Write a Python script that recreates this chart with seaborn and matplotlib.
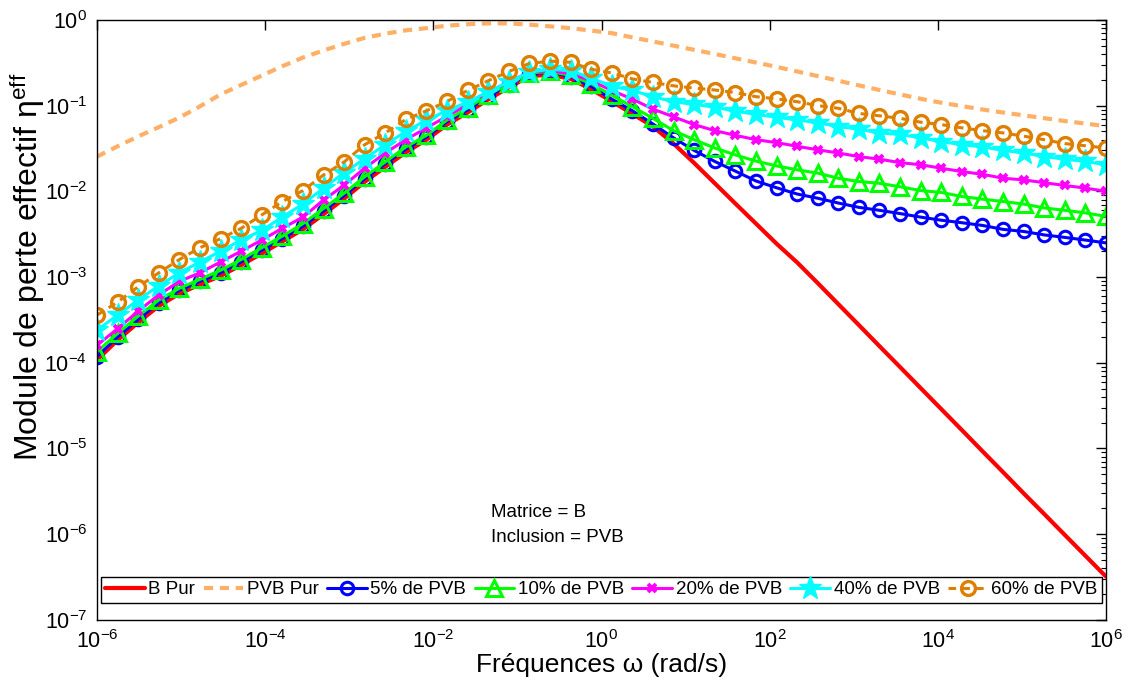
import numpy as np
import pandas as pd
import seaborn as sns
import matplotlib
matplotlib.use("Agg")
import matplotlib.pyplot as plt
from matplotlib.ticker import NullLocator, LogLocator

# frequencies (rad/s): 50 log-spaced points from 1e-6 to 1e6
omega = np.logspace(-6, 6, 50)

b_pur = [1.08e-4, 1.84e-4, 2.95e-4, 4.6e-4, 6.4e-4, 8.2e-4, 1.03e-3, 1.38e-3, 1.88e-3, 2.6e-3,
         3.6e-3, 5.4e-3, 8.2e-3, 1.29e-2, 1.93e-2, 2.85e-2, 4.0e-2, 0.060, 0.083, 0.118,
         0.163, 0.22, 0.23, 0.205, 0.155, 0.112, 0.080, 0.057, 0.036, 0.0214,
         0.0124, 0.0072, 0.0042, 0.00245, 0.00148, 8.5e-4, 4.83e-4, 2.75e-4, 1.56e-4, 8.9e-5,
         5.06e-5, 2.88e-5, 1.64e-5, 9.3e-6, 5.3e-6, 3.0e-6, 1.72e-6, 9.8e-7, 5.6e-7, 3.2e-7]

pvb_pur = [0.0254, 0.0335, 0.0437, 0.056, 0.0725, 0.098, 0.135, 0.174, 0.224, 0.288,
           0.363, 0.44, 0.525, 0.617, 0.69, 0.755, 0.80, 0.855, 0.89, 0.91,
           0.91, 0.88, 0.84, 0.80, 0.75, 0.70, 0.624, 0.56, 0.50, 0.447,
           0.40, 0.356, 0.318, 0.283, 0.25, 0.221, 0.195, 0.172, 0.152, 0.135,
           0.12, 0.108, 0.0986, 0.090, 0.083, 0.077, 0.0713, 0.066, 0.0617, 0.0575]

pvb_5 = [1.18e-4, 2.0e-4, 3.2e-4, 5.0e-4, 7.0e-4, 8.9e-4, 1.12e-3, 1.5e-3, 2.05e-3, 2.8e-3,
         3.9e-3, 5.9e-3, 8.9e-3, 1.4e-2, 2.1e-2, 3.1e-2, 4.3e-2, 0.065, 0.089, 0.127,
         0.175, 0.235, 0.245, 0.218, 0.167, 0.119, 0.087, 0.061, 0.042, 0.030,
         0.0223, 0.0172, 0.0132, 0.011, 0.0093, 0.0083, 0.0073, 0.0065, 0.0060, 0.0055,
         0.0050, 0.0046, 0.0043, 0.0040, 0.0036, 0.0034, 0.0031, 0.0029, 0.0027, 0.0025]

pvb_10 = [1.35e-4, 2.2e-4, 3.5e-4, 5.4e-4, 7.4e-4, 9.4e-4, 1.2e-3, 1.6e-3, 2.2e-3, 3.0e-3,
          4.2e-3, 6.3e-3, 9.5e-3, 1.48e-2, 2.2e-2, 3.3e-2, 4.5e-2, 0.068, 0.094, 0.133,
          0.182, 0.24, 0.25, 0.225, 0.18, 0.132, 0.097, 0.071, 0.051, 0.040,
          0.032, 0.0266, 0.0225, 0.0198, 0.0178, 0.0163, 0.0142, 0.0130, 0.0124, 0.0113,
          0.0102, 0.0097, 0.0087, 0.0081, 0.0076, 0.0071, 0.0064, 0.0060, 0.0056, 0.0051]

pvb_20 = [1.6e-4, 2.5e-4, 4.0e-4, 6.2e-4, 8.9e-4, 1.12e-3, 1.5e-3, 2.0e-3, 2.7e-3, 3.7e-3,
          5.0e-3, 7.9e-3, 1.18e-2, 1.86e-2, 2.8e-2, 4.0e-2, 5.5e-2, 0.075, 0.103, 0.143,
          0.19, 0.245, 0.255, 0.235, 0.195, 0.15, 0.119, 0.091, 0.074, 0.060,
          0.051, 0.045, 0.040, 0.037, 0.0335, 0.0305, 0.028, 0.0254, 0.0237, 0.0216,
          0.0204, 0.0186, 0.017, 0.0158, 0.0142, 0.0136, 0.0126, 0.0117, 0.0109, 0.010]

pvb_40 = [2.4e-4, 3.6e-4, 5.4e-4, 7.9e-4, 1.12e-3, 1.5e-3, 2.0e-3, 2.7e-3, 3.5e-3, 5.0e-3,
          7.1e-3, 1.09e-2, 1.65e-2, 2.4e-2, 3.5e-2, 5.0e-2, 0.068, 0.087, 0.11, 0.145,
          0.19, 0.245, 0.265, 0.255, 0.21, 0.168, 0.15, 0.127, 0.111, 0.103,
          0.096, 0.086, 0.079, 0.073, 0.068, 0.063, 0.057, 0.053, 0.048, 0.046,
          0.042, 0.038, 0.035, 0.033, 0.030, 0.028, 0.0254, 0.0237, 0.0223, 0.0204]

pvb_60 = [3.6e-4, 5.1e-4, 7.7e-4, 1.12e-3, 1.6e-3, 2.2e-3, 2.8e-3, 3.7e-3, 5.3e-3, 7.6e-3,
          1.02e-2, 1.55e-2, 2.2e-2, 3.5e-2, 4.8e-2, 6.9e-2, 0.087, 0.112, 0.150, 0.195,
          0.25, 0.31, 0.33, 0.32, 0.266, 0.24, 0.205, 0.186, 0.17, 0.16,
          0.152, 0.142, 0.127, 0.12, 0.111, 0.10, 0.093, 0.081, 0.076, 0.071,
          0.064, 0.060, 0.055, 0.051, 0.048, 0.044, 0.040, 0.036, 0.034, 0.032]

labels = ["B Pur", "PVB Pur", "5% de PVB", "10% de PVB", "20% de PVB", "40% de PVB", "60% de PVB"]

sns.set_style("white")
plt.rcParams["font.family"] = ["Liberation Sans", "DejaVu Sans"]
plt.rcParams["mathtext.fontset"] = "custom"
plt.rcParams["mathtext.rm"] = "Liberation Sans"
plt.rcParams["mathtext.it"] = "Liberation Sans:italic"
plt.rcParams["mathtext.default"] = "regular"
plt.rcParams["text.color"] = "black"
plt.rcParams["axes.labelcolor"] = "black"

fig = plt.figure(figsize=(11.28, 6.85), dpi=100)
ax = fig.add_axes([0.086, 0.095, 0.8945, 0.876])

# line styles applied after seaborn draws each series
styles = [
    (b_pur, "#FF0000", dict(linewidth=3.0, linestyle="-")),
    (pvb_pur, "#FFB066", dict(linewidth=3.0, linestyle=(0, (2.2, 1.6)))),
    (pvb_5, "#0000FF", dict(linewidth=2.2, linestyle="-", marker="o", markersize=9,
                            markerfacecolor="none", markeredgewidth=2.2)),
    (pvb_10, "#00FF00", dict(linewidth=2.2, linestyle="-", marker="^", markersize=11,
                             markerfacecolor="none", markeredgewidth=2.2)),
    (pvb_20, "#FF00FF", dict(linewidth=2.2, linestyle="-", marker="x", markersize=6,
                             markeredgewidth=2.8)),
    (pvb_40, "#00FFFF", dict(linewidth=2.2, linestyle="-", marker="*", markersize=17,
                             markeredgewidth=1)),
    (pvb_60, "#DD7F00", dict(linewidth=2.2, linestyle=(0, (2.5, 2.0)), marker="o", markersize=10,
                             markerfacecolor="none", markeredgewidth=2.4)),
]

for (vals, col, props), lab in zip(styles, labels):
    df = pd.DataFrame({"omega": omega, "eta": vals})
    sns.lineplot(data=df, x="omega", y="eta", ax=ax, color=col, label=lab, sort=False)
    line = ax.lines[-1]
    line.set(**props)
    line.set_markeredgecolor(col)
    if props.get("markerfacecolor") is None and "marker" in props:
        line.set_markerfacecolor(col)

ax.set_xscale("log")
ax.set_yscale("log")
ax.set_xlim(1e-6, 1e6)
ax.set_ylim(1e-7, 1e0)
ax.set_xticks([1e-6, 1e-4, 1e-2, 1e0, 1e2, 1e4, 1e6])
ax.xaxis.set_minor_locator(NullLocator())
ax.yaxis.set_major_locator(LogLocator(base=10, numticks=20))
ax.yaxis.set_minor_locator(LogLocator(base=10, subs=np.arange(2, 10), numticks=20))
ax.tick_params(which="both", direction="in", top=True, right=True, labelsize=15.5, colors="black")
ax.tick_params(which="major", length=7, width=1, pad=7)
ax.tick_params(which="minor", length=3.5, width=0.8)
for s in ax.spines.values():
    s.set_color("black")
    s.set_linewidth(1)

ax.set_xlabel("Fréquences ω (rad/s)", fontsize=19, labelpad=0)
ax.set_ylabel("Module de perte effectif η$^{eff}$", fontsize=23)
ax.yaxis.set_label_coords(-0.05, 0.588)

ax.text(0.39, 0.158, "Matrice = B\nInclusion = PVB", transform=ax.transAxes,
        fontsize=13.5, linespacing=1.6, va="center", ha="left")

leg = ax.legend(loc="lower center", bbox_to_anchor=(0.5, 0.028), ncol=7, fontsize=13.5,
                handlelength=2.1, handletextpad=0.2, columnspacing=0.45, borderpad=0.25,
                borderaxespad=0, fancybox=False, framealpha=1, edgecolor="black", numpoints=1)
leg.get_frame().set_linewidth(1)

plt.savefig("out.png", dpi=100)
